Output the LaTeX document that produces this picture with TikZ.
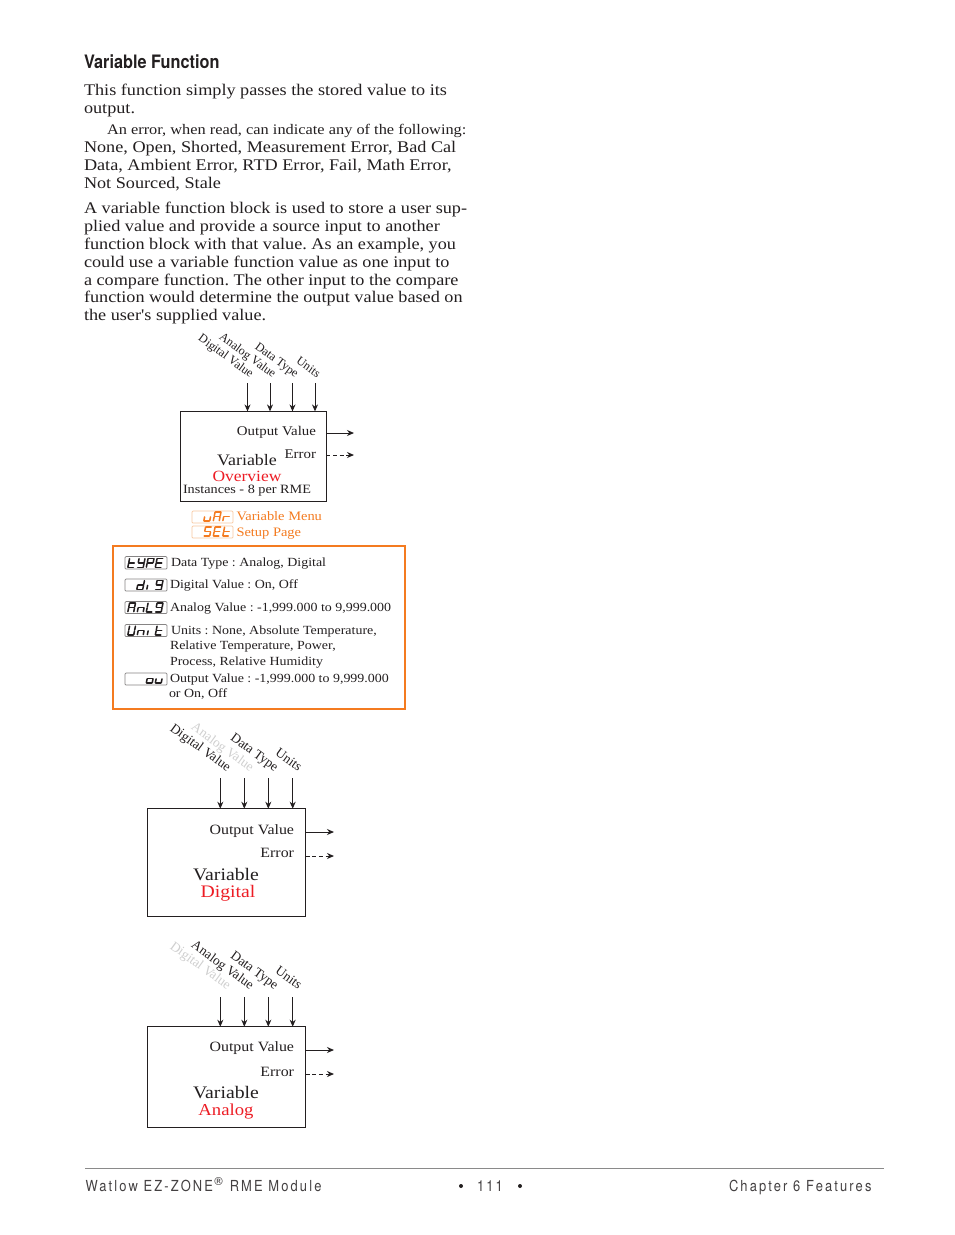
\documentclass[tikz,border=0pt]{standalone}
\usepackage{fontspec}
\usetikzlibrary{arrows.meta}
\setmainfont[FakeStretch=1.12,Ligatures=TeXOff]{Liberation Serif}
\newfontfamily\rawserif{Liberation Serif}
\newfontfamily\headfont[FakeStretch=0.88]{TeX Gyre Heros}
\newfontfamily\footfont[FakeStretch=0.85,LetterSpace=14]{TeX Gyre Heros}
\frenchspacing
\definecolor{ink}{HTML}{231F20}
\definecolor{wred}{HTML}{ED1C24}
\definecolor{worange}{HTML}{F47B20}
\definecolor{wpale}{HTML}{F8C8A0}
\definecolor{wgrey}{HTML}{CFCFCF}
\definecolor{wrule}{HTML}{8A8A8A}
\tikzset{
  txt/.style={inner sep=0pt,outer sep=0pt,anchor=base west,text=ink},
  body/.style={txt,font=\fontsize{16.25}{18}\selectfont},
  small/.style={txt,font=\fontsize{14.6}{15}\selectfont},
  legend/.style={txt,font=\fontsize{12.45}{15}\selectfont},
  big/.style={inner sep=0pt,outer sep=0pt,anchor=base,text=ink,font=\fontsize{17.6}{19}\selectfont},
  inlab/.style={inner sep=0pt,outer sep=0pt,anchor=base east,rotate=-36,text=ink,font=\rawserif\fontsize{13.4}{15}\selectfont},
  inlabs/.style={inlab,font=\rawserif\fontsize{12.2}{15}\selectfont},
  outlab/.style={inner sep=0pt,outer sep=0pt,anchor=base east,text=ink,font=\fontsize{14.2}{15}\selectfont},
  outlabs/.style={outlab,font=\fontsize{13.3}{15}\selectfont},
  fblock/.style={draw=ink,line width=1pt,inner sep=0pt,outer sep=0pt,anchor=north west},
  conn/.style={draw=ink,line width=1pt,-{Stealth[length=7pt,width=6pt]}},
  connd/.style={conn,dash pattern=on 4pt off 2.6pt},
  foot/.style={inner sep=0pt,outer sep=0pt,anchor=base west,text=ink!85,font=\footfont\fontsize{15.2}{17}\selectfont},
  dispbox/.style={draw=#1,line width=0.7pt,rounded corners=1pt,inner sep=0pt,outer sep=0pt,anchor=north west},
}
% seven-segment glyph: x, baseline y, colour, list of segments
\def\segA{a}\def\segB{b}\def\segC{c}\def\segD{d}\def\segE{e}\def\segF{f}\def\segG{g}
\newcommand{\sevseg}[4]{%
  \begin{scope}[shift={(#1,#2)},x=1pt,y=1pt,xslant=0.2,line width=1.5pt,draw=#3,line cap=round]
    \foreach \s in #4{%
      \ifx\s\segA\draw (0.7,9.2)--(5.8,9.2);\fi
      \ifx\s\segB\draw (6.2,8.8)--(6.2,5.1);\fi
      \ifx\s\segC\draw (6.2,4.1)--(6.2,0.4);\fi
      \ifx\s\segD\draw (0.7,0)--(5.8,0);\fi
      \ifx\s\segE\draw (0.3,4.1)--(0.3,0.4);\fi
      \ifx\s\segF\draw (0.3,8.8)--(0.3,5.1);\fi
      \ifx\s\segG\draw (0.7,4.6)--(5.8,4.6);\fi
    }
  \end{scope}}
\def\gA{a,b,c,e,f,g}\def\gE{a,d,e,f,g}\def\gP{a,b,e,f,g}\def\gS{a,c,d,f,g}
\def\gt{d,e,f,g}\def\gY{b,c,d,f,g}\def\gd{b,c,d,e,g}\def\gnine{a,b,c,d,f,g}
\def\gn{c,e,g}\def\gL{d,e,f}\def\gU{b,c,d,e,f}\def\gi{e}\def\go{c,d,e,g}\def\gu{c,d,e}\def\gr{e,g}
\begin{document}
\begin{tikzpicture}[x=1pt,y=-1pt]
\useasboundingbox (0,0) rectangle (954,1235);
\fill[white] (0,0) rectangle (954,1235);

% page text
\node[txt,font=\headfont\bfseries\fontsize{18.5}{20}\selectfont] (head) at (84,68.5) {Variable Function};
\node[body] (l1) at (84,95.5) {This function simply passes the stored value to its};
\node[body] (l2) at (84,113.5) {output.};
\node[small] (l3) at (107,134) {An error, when read, can indicate any of the following:};
\node[body] (l4) at (84,152.5) {None, Open, Shorted, Measurement Error, Bad Cal};
\node[body] (l5) at (84,170) {Data, Ambient Error, RTD Error, Fail, Math Error,};
\node[body] (l6) at (84,188) {Not Sourced, Stale};
\node[body] (l7) at (84,213.5) {A variable function block is used to store a user sup-};
\node[body] (l8) at (84,231.5) {plied value and provide a source input to another};
\node[body] (l9) at (84,249.5) {function block with that value. As an example, you};
\node[body] (l10) at (84,267) {could use a variable function value as one input to};
\node[body] (l11) at (84,285) {a compare function. The other input to the compare};
\node[body] (l12) at (84,302.5) {function would determine the output value based on};
\node[body] (l13) at (84,320.5) {the user's supplied value.};

% block 1: overview
\node[fblock,minimum width=146pt,minimum height=90pt] (b1) at (180.4,411.4) {};
\node[inlabs] (b1a) at (250,378) {Digital Value};
\node[inlabs] (b1b) at (272.5,378) {Analog Value};
\node[inlabs] (b1c) at (295,378) {Data Type};
\node[inlabs] (b1d) at (317,378) {Units};
\coordinate (c1a) at (247.5,383); \coordinate (c1b) at (270,383);
\coordinate (c1c) at (292.5,383); \coordinate (c1d) at (315,383);
\draw[conn] (c1a) -- (c1a |- b1.north);
\draw[conn] (c1b) -- (c1b |- b1.north);
\draw[conn] (c1c) -- (c1c |- b1.north);
\draw[conn] (c1d) -- (c1d |- b1.north);
\node[outlabs] (b1o) at (316,435) {Output Value};
\node[outlabs] (b1e) at (316,458) {Error};
\node[big,font=\fontsize{16}{19}\selectfont] (b1v) at (247,465.5) {Variable};
\node[big,text=wred,font=\fontsize{15.6}{19}\selectfont] (b1t) at (247,481.5) {Overview};
\node[txt,font=\fontsize{12.7}{15}\selectfont] (b1i) at (183,493) {Instances - 8 per RME};
\coordinate (o1a) at (354,433); \coordinate (o1b) at (354,455);
\draw[conn] (o1a -| b1.east) -- (o1a);
\draw[connd] (o1b -| b1.east) -- (o1b);

% menu tags
\node[dispbox=wpale,minimum width=41pt,minimum height=12pt] (m1) at (192,511) {};
\node[dispbox=wpale,minimum width=41pt,minimum height=12pt] (m2) at (192,526) {};
\sevseg{203.5}{521}{worange}{\gu}
\sevseg{213}{521}{worange}{\gA}
\sevseg{222.5}{521}{worange}{\gr}
\sevseg{203.5}{536}{worange}{\gS}
\sevseg{213}{536}{worange}{\gE}
\sevseg{222.5}{536}{worange}{\gt}
\node[legend,text=worange,font=\fontsize{12.9}{15}\selectfont] (m1t) at (236.5,520) {Variable Menu};
\node[legend,text=worange,font=\fontsize{12.9}{15}\selectfont] (m2t) at (236.5,536) {Setup Page};

% parameter panel
\node[draw=worange,line width=1.5pt,inner sep=0pt,outer sep=0pt,anchor=north west,minimum width=292pt,minimum height=163pt] (panel) at (113,546) {};
\node[dispbox=ink!55,minimum width=42pt,minimum height=12.5pt] (p1) at (125,556.5) {};
\node[dispbox=ink!55,minimum width=42pt,minimum height=12pt] (p2) at (125,579) {};
\node[dispbox=ink!55,minimum width=42pt,minimum height=12pt] (p3) at (125,601.5) {};
\node[dispbox=ink!55,minimum width=42pt,minimum height=12pt] (p4) at (125,624.5) {};
\node[dispbox=ink!55,minimum width=42pt,minimum height=12pt] (p5) at (125,673) {};
\sevseg{127.5}{567.5}{ink}{\gt}\sevseg{137}{567.5}{ink}{\gY}\sevseg{146}{567.5}{ink}{\gP}\sevseg{155}{567.5}{ink}{\gE}
\sevseg{136.5}{589.5}{ink}{\gd}\sevseg{146.5}{589.5}{ink}{\gi}\sevseg{155}{589.5}{ink}{\gnine}
\sevseg{127.5}{612}{ink}{\gA}\sevseg{137}{612}{ink}{\gn}\sevseg{146}{612}{ink}{\gL}\sevseg{155}{612}{ink}{\gnine}
\sevseg{127.5}{635}{ink}{\gU}\sevseg{137}{635}{ink}{\gn}\sevseg{147}{635}{ink}{\gi}\sevseg{155}{635}{ink}{\gt}
\sevseg{146}{683}{ink}{\go}\sevseg{155}{683}{ink}{\gu}
\node[legend] (p1t) at (171,566) {Data Type : Analog, Digital};
\node[legend] (p2t) at (170,588) {Digital Value : On, Off};
\node[legend] (p3t) at (170,611) {Analog Value : -1,999.000 to 9,999.000};
\node[legend] (p4t) at (171,634) {Units : None, Absolute Temperature,};
\node[legend] (p4u) at (170,649) {Relative Temperature, Power,};
\node[legend] (p4v) at (170,665) {Process, Relative Humidity};
\node[legend] (p5t) at (170,682) {Output Value : -1,999.000 to 9,999.000};
\node[legend] (p5u) at (169,697) {or On, Off};

% block 2: digital
\node[fblock,minimum width=158.3pt,minimum height=107.3pt] (b2) at (147.4,808.7) {};
\node[inlab] (b2a) at (227,772) {Digital Value};
\node[inlab,text=wgrey] (b2b) at (250,772) {Analog Value};
\node[inlab] (b2c) at (274.5,772) {Data Type};
\node[inlab] (b2d) at (298,772) {Units};
\coordinate (c2a) at (220.3,778); \coordinate (c2b) at (244.3,778);
\coordinate (c2c) at (268.3,778); \coordinate (c2d) at (292.7,778);
\draw[conn] (c2a) -- (c2a |- b2.north);
\draw[conn] (c2b) -- (c2b |- b2.north);
\draw[conn] (c2c) -- (c2c |- b2.north);
\draw[conn] (c2d) -- (c2d |- b2.north);
\node[outlab] (b2o) at (294,834) {Output Value};
\node[outlab] (b2e) at (294,857) {Error};
\node[big] (b2v) at (226,880) {Variable};
\node[big,text=wred] (b2t) at (228,897) {Digital};
\coordinate (o2a) at (334,832); \coordinate (o2b) at (334,856);
\draw[conn] (o2a -| b2.east) -- (o2a);
\draw[connd] (o2b -| b2.east) -- (o2b);

% block 3: analog
\node[fblock,minimum width=158.3pt,minimum height=100.8pt] (b3) at (147.4,1026.7) {};
\node[inlab,text=wgrey] (b3a) at (227,990) {Digital Value};
\node[inlab] (b3b) at (250,990) {Analog Value};
\node[inlab] (b3c) at (274.5,990) {Data Type};
\node[inlab] (b3d) at (298,990) {Units};
\coordinate (c3a) at (220.3,997); \coordinate (c3b) at (244.3,997);
\coordinate (c3c) at (268.3,997); \coordinate (c3d) at (292.7,997);
\draw[conn] (c3a) -- (c3a |- b3.north);
\draw[conn] (c3b) -- (c3b |- b3.north);
\draw[conn] (c3c) -- (c3c |- b3.north);
\draw[conn] (c3d) -- (c3d |- b3.north);
\node[outlab] (b3o) at (294,1051) {Output Value};
\node[outlab] (b3e) at (294,1076) {Error};
\node[big] (b3v) at (226,1098) {Variable};
\node[big,text=wred,font=\fontsize{16.7}{19}\selectfont] (b3t) at (226,1115) {Analog};
\coordinate (o3a) at (334,1050); \coordinate (o3b) at (334,1074);
\draw[conn] (o3a -| b3.east) -- (o3a);
\draw[connd] (o3b -| b3.east) -- (o3b);

% footer
\coordinate (r1) at (85,1168.5); \coordinate (r2) at (884,1168.5);
\draw[wrule,line width=0.8pt] (r1) -- (r2);
\node[foot] (f1) at (85.5,1191) {Watlow EZ-ZONE\raisebox{5.5pt}{\fontsize{11}{11}\selectfont\fontspec{DejaVu Sans}®} RME Module};
\node[foot] (f2) at (477,1191) {111};
\node[fill=ink,circle,minimum size=4pt,inner sep=0pt] (fa) at (461,1186) {};
\node[fill=ink,circle,minimum size=4pt,inner sep=0pt] (fb) at (520,1186) {};
\node[foot] (f3) at (729,1191) {Chapter 6 Features};
\end{tikzpicture}
\end{document}
